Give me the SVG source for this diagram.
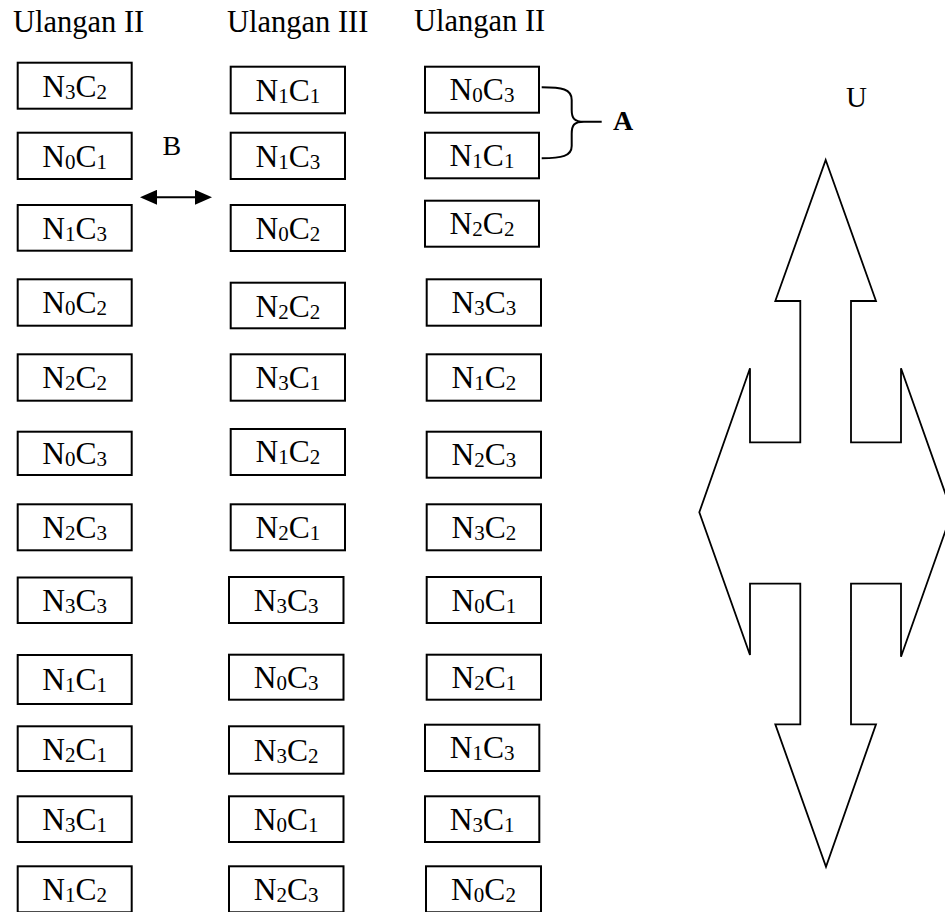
<svg xmlns="http://www.w3.org/2000/svg" width="945" height="912" viewBox="0 0 945 912">
<style>
text{font-family:"Liberation Serif","Times New Roman",serif;fill:#000}
.h{font-size:30.5px}
.t{font-size:31.5px;text-anchor:middle}
.s{font-size:21px}
.b{fill:#fff;stroke:#000;stroke-width:2}
.ln{fill:none;stroke:#000;stroke-width:2}
</style>
<defs>
<marker id="ah" viewBox="0 0 17 15" refX="11" refY="7.5" markerWidth="17" markerHeight="15" orient="auto-start-reverse" markerUnits="userSpaceOnUse">
<path d="M0,0 L17,7.5 L0,15 z" fill="#000"/>
</marker>
</defs>
<rect width="945" height="912" fill="#fff"/>
<g id="headers">
<text class="h" x="13" y="32">Ulangan II</text>
<text class="h" x="227" y="32">Ulangan III</text>
<text class="h" x="414" y="31">Ulangan II</text>
</g>
<g id="col1">
<g id="c1r1"><rect class="b" x="17.7" y="62.7" width="114" height="46"/><text class="t" x="74.7" y="96.5">N<tspan class="s" dy="2">3</tspan><tspan dy="-2">C</tspan><tspan class="s" dy="2">2</tspan></text></g>
<g id="c1r2"><rect class="b" x="17.7" y="132.7" width="114" height="46.3"/><text class="t" x="74.7" y="166.5">N<tspan class="s" dy="2">0</tspan><tspan dy="-2">C</tspan><tspan class="s" dy="2">1</tspan></text></g>
<g id="c1r3"><rect class="b" x="17.7" y="205" width="114" height="45.7"/><text class="t" x="74.7" y="238.5">N<tspan class="s" dy="2">1</tspan><tspan dy="-2">C</tspan><tspan class="s" dy="2">3</tspan></text></g>
<g id="c1r4"><rect class="b" x="17.7" y="279.3" width="114" height="46.4"/><text class="t" x="74.7" y="312.5">N<tspan class="s" dy="2">0</tspan><tspan dy="-2">C</tspan><tspan class="s" dy="2">2</tspan></text></g>
<g id="c1r5"><rect class="b" x="17.7" y="354.3" width="114" height="46.4"/><text class="t" x="74.7" y="387.5">N<tspan class="s" dy="2">2</tspan><tspan dy="-2">C</tspan><tspan class="s" dy="2">2</tspan></text></g>
<g id="c1r6"><rect class="b" x="17.7" y="431.7" width="114" height="43.3"/><text class="t" x="74.7" y="463.5">N<tspan class="s" dy="2">0</tspan><tspan dy="-2">C</tspan><tspan class="s" dy="2">3</tspan></text></g>
<g id="c1r7"><rect class="b" x="17.7" y="504.3" width="114" height="46"/><text class="t" x="74.7" y="537.5">N<tspan class="s" dy="2">2</tspan><tspan dy="-2">C</tspan><tspan class="s" dy="2">3</tspan></text></g>
<g id="c1r8"><rect class="b" x="17.7" y="577.5" width="114" height="45.5"/><text class="t" x="74.7" y="610.5">N<tspan class="s" dy="2">3</tspan><tspan dy="-2">C</tspan><tspan class="s" dy="2">3</tspan></text></g>
<g id="c1r9"><rect class="b" x="17.7" y="655" width="114" height="49"/><text class="t" x="74.7" y="689.5">N<tspan class="s" dy="2">1</tspan><tspan dy="-2">C</tspan><tspan class="s" dy="2">1</tspan></text></g>
<g id="c1r10"><rect class="b" x="17.7" y="726.3" width="114" height="44.7"/><text class="t" x="74.7" y="759.5">N<tspan class="s" dy="2">2</tspan><tspan dy="-2">C</tspan><tspan class="s" dy="2">1</tspan></text></g>
<g id="c1r11"><rect class="b" x="17.7" y="796.3" width="114" height="45.7"/><text class="t" x="74.7" y="829.5">N<tspan class="s" dy="2">3</tspan><tspan dy="-2">C</tspan><tspan class="s" dy="2">1</tspan></text></g>
<g id="c1r12"><rect class="b" x="17.7" y="866.3" width="114" height="46"/><text class="t" x="74.7" y="899.5">N<tspan class="s" dy="2">1</tspan><tspan dy="-2">C</tspan><tspan class="s" dy="2">2</tspan></text></g>
</g>
<g id="col2">
<g id="c2r1"><rect class="b" x="230.7" y="66.7" width="114.3" height="46.6"/><text class="t" x="287.8" y="100.5">N<tspan class="s" dy="2">1</tspan><tspan dy="-2">C</tspan><tspan class="s" dy="2">1</tspan></text></g>
<g id="c2r2"><rect class="b" x="230.7" y="132.7" width="114.3" height="46.3"/><text class="t" x="287.8" y="166.5">N<tspan class="s" dy="2">1</tspan><tspan dy="-2">C</tspan><tspan class="s" dy="2">3</tspan></text></g>
<g id="c2r3"><rect class="b" x="230.7" y="205" width="114.3" height="46"/><text class="t" x="287.8" y="238.5">N<tspan class="s" dy="2">0</tspan><tspan dy="-2">C</tspan><tspan class="s" dy="2">2</tspan></text></g>
<g id="c2r4"><rect class="b" x="230.7" y="282.7" width="114.3" height="45.6"/><text class="t" x="287.8" y="316.5">N<tspan class="s" dy="2">2</tspan><tspan dy="-2">C</tspan><tspan class="s" dy="2">2</tspan></text></g>
<g id="c2r5"><rect class="b" x="230.7" y="354.3" width="114.3" height="46.4"/><text class="t" x="287.8" y="387.5">N<tspan class="s" dy="2">3</tspan><tspan dy="-2">C</tspan><tspan class="s" dy="2">1</tspan></text></g>
<g id="c2r6"><rect class="b" x="230.7" y="429" width="114.3" height="46"/><text class="t" x="287.8" y="461.5">N<tspan class="s" dy="2">1</tspan><tspan dy="-2">C</tspan><tspan class="s" dy="2">2</tspan></text></g>
<g id="c2r7"><rect class="b" x="230.7" y="504.3" width="114.3" height="46"/><text class="t" x="287.8" y="537.5">N<tspan class="s" dy="2">2</tspan><tspan dy="-2">C</tspan><tspan class="s" dy="2">1</tspan></text></g>
<g id="c2r8"><rect class="b" x="229" y="577" width="114.5" height="46"/><text class="t" x="286.2" y="610.5">N<tspan class="s" dy="2">3</tspan><tspan dy="-2">C</tspan><tspan class="s" dy="2">3</tspan></text></g>
<g id="c2r9"><rect class="b" x="229" y="654.7" width="114.5" height="45"/><text class="t" x="286.2" y="687.5">N<tspan class="s" dy="2">0</tspan><tspan dy="-2">C</tspan><tspan class="s" dy="2">3</tspan></text></g>
<g id="c2r10"><rect class="b" x="229" y="726.3" width="114.5" height="47.4"/><text class="t" x="286.2" y="760.5">N<tspan class="s" dy="2">3</tspan><tspan dy="-2">C</tspan><tspan class="s" dy="2">2</tspan></text></g>
<g id="c2r11"><rect class="b" x="229" y="796.3" width="114.5" height="45.7"/><text class="t" x="286.2" y="829.5">N<tspan class="s" dy="2">0</tspan><tspan dy="-2">C</tspan><tspan class="s" dy="2">1</tspan></text></g>
<g id="c2r12"><rect class="b" x="229" y="866.3" width="114.5" height="46"/><text class="t" x="286.2" y="899.5">N<tspan class="s" dy="2">2</tspan><tspan dy="-2">C</tspan><tspan class="s" dy="2">3</tspan></text></g>
</g>
<g id="col3">
<g id="c3r1"><rect class="b" x="425" y="66.7" width="114" height="46"/><text class="t" x="482" y="99.5">N<tspan class="s" dy="2">0</tspan><tspan dy="-2">C</tspan><tspan class="s" dy="2">3</tspan></text></g>
<g id="c3r2"><rect class="b" x="425" y="132.7" width="114" height="45.6"/><text class="t" x="482" y="165.5">N<tspan class="s" dy="2">1</tspan><tspan dy="-2">C</tspan><tspan class="s" dy="2">1</tspan></text></g>
<g id="c3r3"><rect class="b" x="425" y="200.7" width="114" height="46"/><text class="t" x="482" y="233.5">N<tspan class="s" dy="2">2</tspan><tspan dy="-2">C</tspan><tspan class="s" dy="2">2</tspan></text></g>
<g id="c3r4"><rect class="b" x="426.7" y="279.3" width="114.3" height="46.4"/><text class="t" x="483.8" y="312.5">N<tspan class="s" dy="2">3</tspan><tspan dy="-2">C</tspan><tspan class="s" dy="2">3</tspan></text></g>
<g id="c3r5"><rect class="b" x="426.7" y="354.3" width="114.3" height="46.4"/><text class="t" x="483.8" y="387.5">N<tspan class="s" dy="2">1</tspan><tspan dy="-2">C</tspan><tspan class="s" dy="2">2</tspan></text></g>
<g id="c3r6"><rect class="b" x="426.7" y="431.7" width="114.3" height="46"/><text class="t" x="483.8" y="464.5">N<tspan class="s" dy="2">2</tspan><tspan dy="-2">C</tspan><tspan class="s" dy="2">3</tspan></text></g>
<g id="c3r7"><rect class="b" x="426.7" y="504.3" width="114.3" height="46"/><text class="t" x="483.8" y="537.5">N<tspan class="s" dy="2">3</tspan><tspan dy="-2">C</tspan><tspan class="s" dy="2">2</tspan></text></g>
<g id="c3r8"><rect class="b" x="426.7" y="577" width="114.3" height="46"/><text class="t" x="483.8" y="610.5">N<tspan class="s" dy="2">0</tspan><tspan dy="-2">C</tspan><tspan class="s" dy="2">1</tspan></text></g>
<g id="c3r9"><rect class="b" x="426.7" y="654.7" width="114.3" height="45"/><text class="t" x="483.8" y="687.5">N<tspan class="s" dy="2">2</tspan><tspan dy="-2">C</tspan><tspan class="s" dy="2">1</tspan></text></g>
<g id="c3r10"><rect class="b" x="425" y="724.7" width="114.3" height="46.3"/><text class="t" x="482.2" y="757.5">N<tspan class="s" dy="2">1</tspan><tspan dy="-2">C</tspan><tspan class="s" dy="2">3</tspan></text></g>
<g id="c3r11"><rect class="b" x="425" y="796.3" width="114.3" height="45.7"/><text class="t" x="482.2" y="829.5">N<tspan class="s" dy="2">3</tspan><tspan dy="-2">C</tspan><tspan class="s" dy="2">1</tspan></text></g>
<g id="c3r12"><rect class="b" x="426" y="866.3" width="115" height="46"/><text class="t" x="483.5" y="899.5">N<tspan class="s" dy="2">0</tspan><tspan dy="-2">C</tspan><tspan class="s" dy="2">2</tspan></text></g>
</g>
<g id="connectors">
<line class="ln" x1="146" y1="197.3" x2="206" y2="197.3" stroke-width="3" marker-start="url(#ah)" marker-end="url(#ah)"/>
<path class="ln" d="M541.7,87.3 C562,87.3 571.7,89 571.7,100 L571.7,110 C571.7,118 574,121.7 584,121.7 L601.7,121.7 M584,121.7 C574,121.7 571.7,125 571.7,134 L571.7,146 C571.7,156 562,158.3 541.7,158.3"/>
</g>
<g id="labels">
<text x="162.5" y="155" font-size="28">B</text>
<text x="613" y="130" font-size="28" font-weight="bold">A</text>
<text x="846" y="107" font-size="29">U</text>
</g>
<g id="compass">
<polygon fill="#fff" stroke="#000" stroke-width="1.8" stroke-linejoin="miter" points="825.7,160 876,301 851,301 851,442.3 901,442.3 901,368.3 952,512.3 901,656.7 901,583.7 851,583.7 851,724.3 876,724.3 826,866.7 775.3,724.3 800.3,724.3 800.3,583.7 750,583.7 750,655 699.3,512.3 750,368.3 750,442.3 800.3,442.3 800.3,301 775.3,301"/>
</g>
</svg>
